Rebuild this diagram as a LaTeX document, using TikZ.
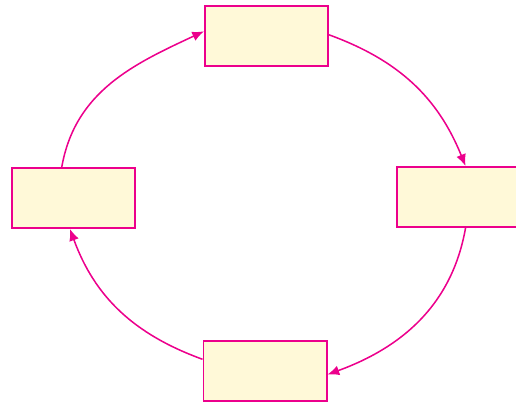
\documentclass[tikz,border=0pt]{standalone}
\usetikzlibrary{arrows.meta}
\definecolor{magentaline}{HTML}{EC008C}
\definecolor{paleyellow}{HTML}{FFF9D8}
\tikzset{
  stagebox/.style={draw=magentaline, line width=1.7pt, fill=paleyellow,
    minimum width=3.69cm, minimum height=1.8cm, inner sep=0pt},
  cycleline/.style={draw=magentaline, line width=1.3pt,
    -{Latex[length=10pt,width=8.5pt]}}
}
\begin{document}
\begin{tikzpicture}[x=0.03cm, y=0.03cm]
  \useasboundingbox (0,0) rectangle (516,403);

  % Boxes
  \node[stagebox] (boxN) at (266.5,367) {};
  \node[stagebox] (boxE) at (458.5,206) {};
  \node[stagebox] (boxW) at (73.5,205) {};
  \node[stagebox] (boxS) at (265,32) {};

  % Cycle arrows
  \draw[cycleline] ([xshift=-10pt]boxW.north) to[out=80, in=205] ([yshift=4pt]boxN.west);
  \draw[cycleline] ([yshift=1pt]boxN.east) to[out=-20, in=112] ([xshift=6pt]boxE.north);
  \draw[cycleline] ([xshift=6pt]boxE.south) to[out=-100, in=20] ([yshift=-3pt]boxS.east);
  \draw[cycleline] ([yshift=10pt]boxS.west) to[out=160, in=-70] ([xshift=-3pt]boxW.south);
\end{tikzpicture}
\end{document}
